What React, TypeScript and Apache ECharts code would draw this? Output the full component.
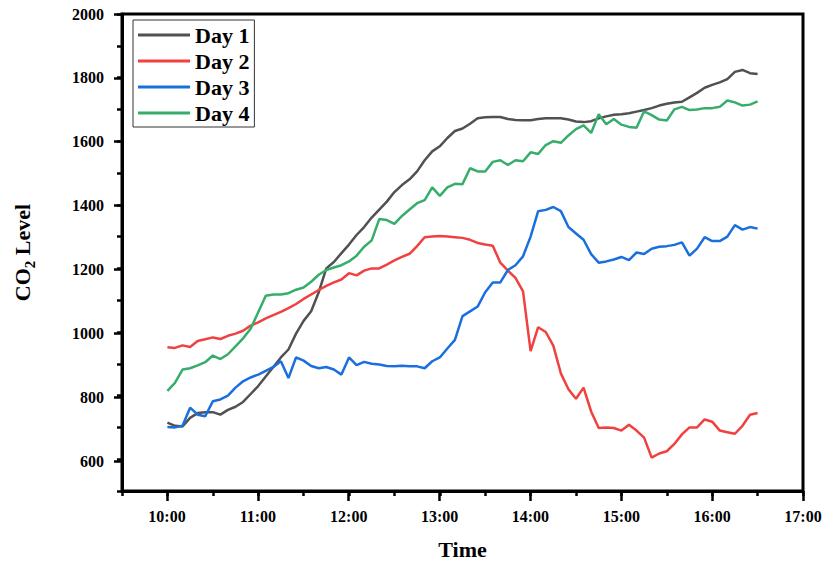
import { useEffect, useRef } from "react";
import * as echarts from "echarts";

const times = [
  "10:00", "10:05", "10:10", "10:15", "10:20", "10:25", "10:30", "10:35", "10:40", "10:45", "10:50", "10:55",
  "11:00", "11:05", "11:10", "11:15", "11:20", "11:25", "11:30", "11:35", "11:40", "11:45", "11:50", "11:55",
  "12:00", "12:05", "12:10", "12:15", "12:20", "12:25", "12:30", "12:35", "12:40", "12:45", "12:50", "12:55",
  "13:00", "13:05", "13:10", "13:15", "13:20", "13:25", "13:30", "13:35", "13:40", "13:45", "13:50", "13:55",
  "14:00", "14:05", "14:10", "14:15", "14:20", "14:25", "14:30", "14:35", "14:40", "14:45", "14:50", "14:55",
  "15:00", "15:05", "15:10", "15:15", "15:20", "15:25", "15:30", "15:35", "15:40", "15:45", "15:50", "15:55",
  "16:00", "16:05", "16:10", "16:15", "16:20", "16:25", "16:30",
];

const day1 = [
  715, 705, 703, 730, 745, 748, 748, 740, 755, 765, 780, 805,
  830, 860, 890, 920, 945, 995, 1035, 1065, 1125, 1200, 1220, 1248,
  1275, 1305, 1330, 1360, 1385, 1410, 1440, 1462, 1480, 1505, 1540, 1568,
  1584, 1610, 1632, 1640, 1655, 1672, 1675, 1676, 1676, 1670, 1667, 1666,
  1666, 1670, 1672, 1672, 1672, 1668, 1662, 1660, 1663, 1672, 1678, 1683,
  1685, 1688, 1693, 1698, 1704, 1712, 1718, 1722, 1724, 1738, 1752, 1768,
  1777, 1785, 1795, 1818, 1824, 1814, 1811,
];

const day2 = [
  952, 950, 958, 953, 972, 977, 983, 978, 988, 995, 1004, 1020,
  1030, 1043, 1053, 1063, 1075, 1088, 1104, 1118, 1132, 1145, 1156, 1165,
  1185, 1178, 1193, 1200, 1200, 1212, 1225, 1236, 1246, 1270, 1298, 1300,
  1302, 1300, 1298, 1296, 1290, 1280, 1275, 1271, 1218, 1193, 1170, 1128,
  940, 1015, 1000, 957, 870, 820, 790, 825, 750, 698, 700, 698,
  690, 708, 690, 668, 605, 618, 625, 648, 678, 700, 700, 725,
  718, 690, 685, 680, 705, 740, 745,
];

const day3 = [
  701, 700, 705, 762, 740, 735, 782, 788, 800, 825, 845, 857,
  866, 878, 890, 908, 855, 920, 910, 893, 886, 890, 882, 866,
  920, 896, 906, 900, 898, 893, 892, 894, 892, 892, 886, 908,
  920, 948, 975, 1050, 1065, 1080, 1125, 1156, 1156, 1195, 1210, 1238,
  1300, 1380, 1384, 1393, 1380, 1330, 1310, 1290, 1245, 1218, 1222, 1228,
  1236, 1226, 1250, 1245, 1262, 1268, 1270, 1274, 1282, 1240, 1262, 1298,
  1286, 1286, 1300, 1336, 1322, 1330, 1325,
];

const day4 = [
  815, 840, 882, 886, 895, 905, 926, 915, 930, 955, 980, 1010,
  1062, 1114, 1118, 1118, 1122, 1133, 1140, 1158, 1180, 1195, 1203, 1210,
  1222, 1240, 1268, 1288, 1355, 1352, 1340, 1365, 1385, 1405, 1415, 1455,
  1428, 1455, 1466, 1465, 1515, 1505, 1505, 1535, 1540, 1525, 1540, 1537,
  1565, 1560, 1588, 1600, 1595, 1618, 1638, 1650, 1626, 1685, 1653, 1670,
  1652, 1645, 1642, 1694, 1682, 1668, 1665, 1700, 1708, 1698, 1700, 1704,
  1704, 1708, 1728, 1722, 1712, 1715, 1725,
];

const seriesNames = ["Day 1", "Day 2", "Day 3", "Day 4"];
const seriesValues = [day1, day2, day3, day4];
const colors = ["#515151", "#F14040", "#1A6FDF", "#37AD6B"];

const FONT = "'Liberation Serif', 'Times New Roman', serif";

const toHours = (t: string) => {
  const [h, m] = t.split(":").map(Number);
  return h + m / 60;
};

export default function App() {
  const ref = useRef<HTMLDivElement>(null);

  useEffect(() => {
    document.body.style.margin = "0";
    if (!ref.current) return;
    const chart = echarts.init(ref.current, undefined, { renderer: "svg" });
    const black = "#000";
    const labelStyle = { fontFamily: FONT, fontWeight: "bold" as const, fontSize: 16, color: black };
    const titleStyle = { fontFamily: FONT, fontWeight: "bold" as const, fontSize: 22, color: black };

    chart.setOption({
      animation: false,
      color: colors,
      grid: [
        { left: 122, right: 23, top: 14, bottom: 72, show: true, borderColor: black, borderWidth: 3 },
        { left: 167, right: 23, top: 14, bottom: 72 },
        { left: 122, right: 23, top: 14, bottom: 103.93 },
      ],
      xAxis: [
        {
          type: "value", gridIndex: 0, min: 9.5, max: 17, interval: 0.5,
          axisLine: { show: true, lineStyle: { color: black, width: 3 } },
          axisTick: { show: true, length: 5, lineStyle: { color: black, width: 2.5 } },
          axisLabel: { show: false }, splitLine: { show: false },
          name: "Time", nameLocation: "middle", nameGap: 47, nameTextStyle: titleStyle,
        },
        {
          type: "value", gridIndex: 1, min: 10, max: 17, interval: 1,
          axisLine: { show: false },
          axisTick: { show: true, length: 8, lineStyle: { color: black, width: 2.5 } },
          axisLabel: { ...labelStyle, margin: 15, formatter: (v: number) => `${v}:00` },
          splitLine: { show: false },
        },
        { type: "value", gridIndex: 2, show: false, min: 0, max: 1 },
      ],
      yAxis: [
        {
          type: "value", gridIndex: 0, min: 500, max: 2000, interval: 100,
          axisLine: { show: true, lineStyle: { color: black, width: 3 } },
          axisTick: { show: true, length: 5, lineStyle: { color: black, width: 2.5 } },
          axisLabel: { show: false }, splitLine: { show: false },
          name: "{a|CO}{b|2}{a| Level}", nameLocation: "middle", nameGap: 85,
          nameTextStyle: {
            color: black,
            rich: {
              a: { ...titleStyle, lineHeight: 30, verticalAlign: "middle" },
              b: { ...titleStyle, fontSize: 15, lineHeight: 30, verticalAlign: "bottom" },
            },
          },
        },
        { type: "value", gridIndex: 1, show: false, min: 0, max: 1 },
        {
          type: "value", gridIndex: 2, min: 600, max: 2000, interval: 200,
          axisLine: { show: false },
          axisTick: { show: true, length: 8, lineStyle: { color: black, width: 2.5 } },
          axisLabel: { ...labelStyle, margin: 18, formatter: (v: number) => String(v) },
          splitLine: { show: false },
        },
      ],
      legend: {
        orient: "vertical", left: 133, top: 20, padding: [4, 5, 3, 5], itemGap: 4,
        itemWidth: 52, itemHeight: 3, icon: "rect",
        borderColor: "#333", borderWidth: 1, backgroundColor: "#fff",
        textStyle: { ...titleStyle },
        data: seriesNames,
      },
      series: seriesNames.map((name, i) => ({
        name,
        type: "line",
        xAxisIndex: 0,
        yAxisIndex: 0,
        symbol: "none",
        showSymbol: false,
        lineStyle: { width: 2.5, color: colors[i] },
        itemStyle: { color: colors[i] },
        data: times.map((t, j) => [toHours(t), seriesValues[i][j]]),
      })),
    });

    return () => chart.dispose();
  }, []);

  return <div ref={ref} style={{ width: 826, height: 565 }} />;
}
